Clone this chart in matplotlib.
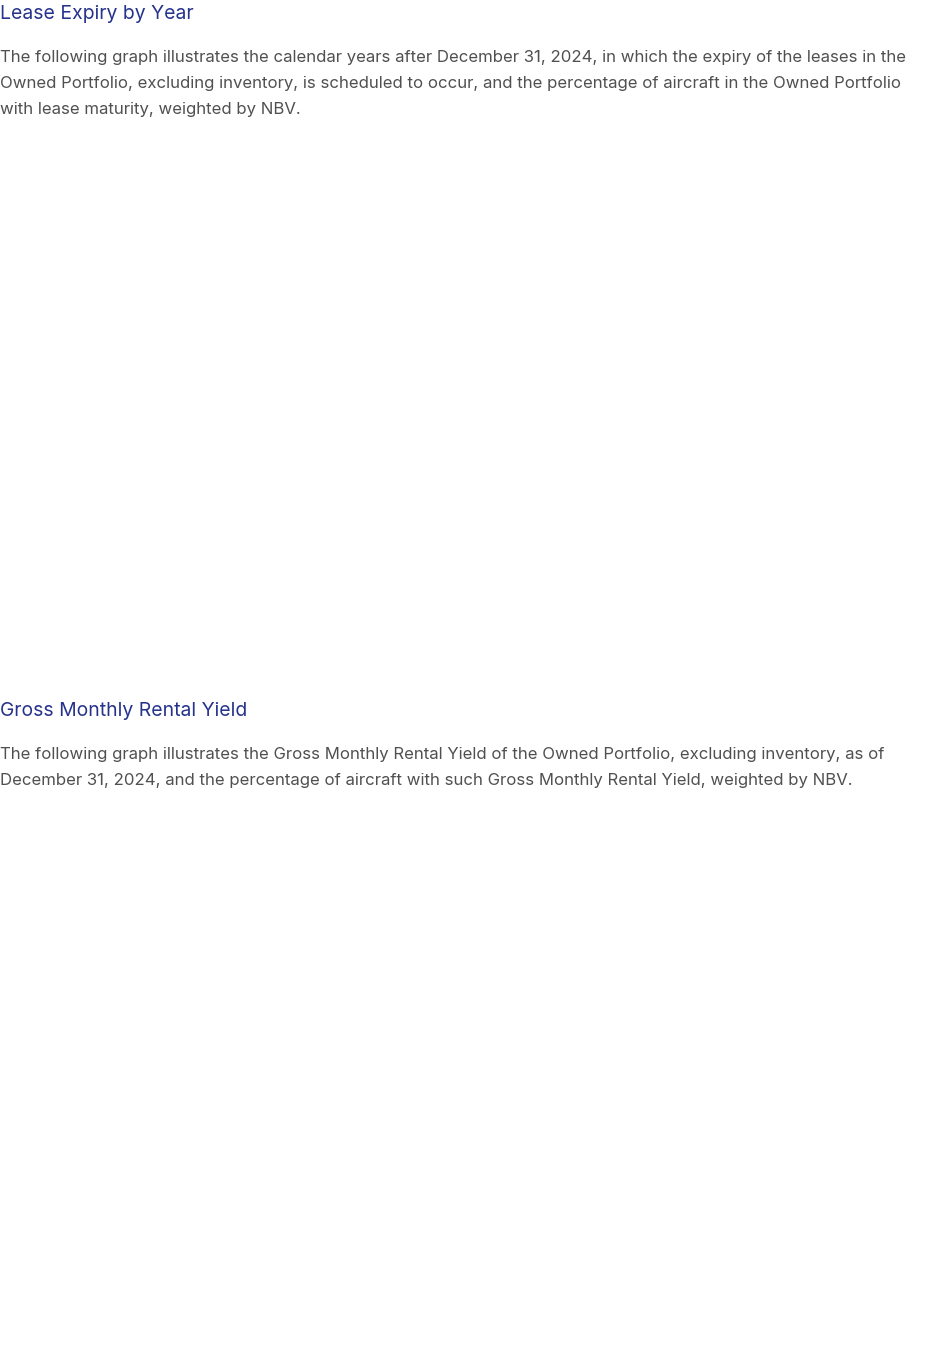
import matplotlib
matplotlib.use("Agg")
import matplotlib.pyplot as plt

# === CONFIGURATION ===
fig_w, fig_h, dpi = 925, 1357, 100
title_color = "#25338c"
body_color = "#505050"
plt.rcParams['font.family'] = ['Inter', 'DejaVu Sans']

# === CONTENT ===
section_titles = ["Lease Expiry by Year", "Gross Monthly Rental Yield"]
section_lines = [
    [
        "The following graph illustrates the calendar years after December 31, 2024, in which the expiry of the leases in the",
        "Owned Portfolio, excluding inventory, is scheduled to occur, and the percentage of aircraft in the Owned Portfolio",
        "with lease maturity, weighted by NBV.",
    ],
    [
        "The following graph illustrates the Gross Monthly Rental Yield of the Owned Portfolio, excluding inventory, as of",
        "December 31, 2024, and the percentage of aircraft with such Gross Monthly Rental Yield, weighted by NBV.",
    ],
]
# vertical pixel position of each section title (charts below them did not render)
title_y_px = [14, 711]

fig = plt.figure(figsize=(fig_w / dpi, fig_h / dpi), dpi=dpi)
fig.patch.set_facecolor("white")


def fy(px):
    return 1 - px / fig_h


for title, lines, ty in zip(section_titles, section_lines, title_y_px):
    fig.text(0.0, fy(ty), title, fontsize=13.95, color=title_color,
             ha="left", va="center")
    for i, line in enumerate(lines):
        fig.text(0.0, fy(ty + 43.5 + 26 * i), line, fontsize=12.05,
                 color=body_color, ha="left", va="center")

fig.savefig("out.png", dpi=dpi, facecolor="white")
